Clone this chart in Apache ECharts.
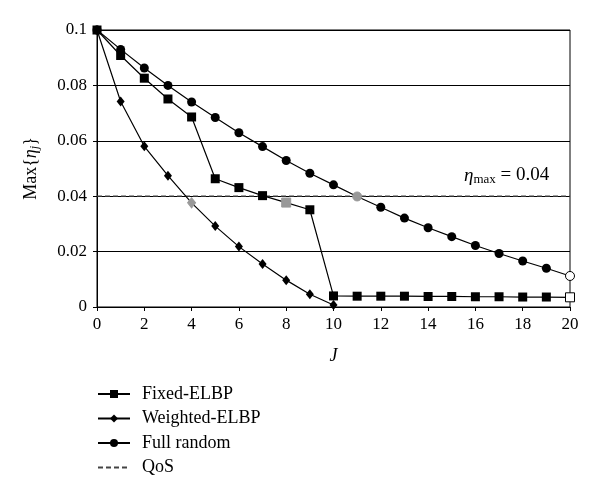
<!DOCTYPE html>
<html><head><meta charset="utf-8">
<script src="https://cdn.jsdelivr.net/npm/echarts@6/dist/echarts.min.js"></script>
<style>html,body{margin:0;padding:0;background:#fff}#c{width:600px;height:496px}</style>
</head><body><div id="c"></div>
<script>
const J = [0,1,2,3,4,5,6,7,8,9,10,11,12,13,14,15,16,17,18,19,20];
const fixedELBP = [0.1,0.0908,0.0826,0.0751,0.0686,0.0463,0.0431,0.0402,0.0377,0.0351,0.0040,0.0039,0.0039,0.0039,0.0038,0.0038,0.0037,0.0037,0.0036,0.0036,0.0035];
const weightedJ = [0,1,2,3,4,5,6,7,8,9,10];
const weightedELBP = [0.1,0.0742,0.0580,0.0474,0.0376,0.0292,0.0218,0.0155,0.0097,0.0046,0.0007];
const fullRandom = [0.1,0.093,0.0863,0.080,0.074,0.0684,0.0629,0.0579,0.0529,0.0483,0.0441,0.0399,0.0360,0.0321,0.0286,0.0254,0.0222,0.0193,0.0166,0.0140,0.0112];
const qosJ = [0,20];
const qos = [0.04,0.04];
const yTicks = [0,0.02,0.04,0.06,0.08,0.1];

const FONT = '"Liberation Serif","DejaVu Serif",serif';
const grey = {color:'#999999', borderColor:'#999999'};
const open = {color:'#ffffff', borderColor:'#000000', borderWidth:1};
function build(xs, ys, special){
  return ys.map((v,i)=>{
    const d = {value:[xs[i], v]};
    if (special[i]) d.itemStyle = special[i];
    return d;
  });
}
const chart = echarts.init(document.getElementById('c'));
chart.setOption({
  animation:false,
  backgroundColor:'#fff',
  textStyle:{fontFamily:FONT},
  grid:{left:97,right:30,top:30,bottom:189,show:true,borderColor:'#000',borderWidth:1,backgroundColor:'transparent'},
  xAxis:{type:'value',min:0,max:20,interval:2,
    name:'J',nameLocation:'middle',nameGap:40,
    nameTextStyle:{fontFamily:FONT,fontSize:18,fontStyle:'italic',color:'#000'},
    axisLine:{lineStyle:{color:'#000',width:1}},
    axisTick:{show:true,length:4,lineStyle:{color:'#000'}},
    axisLabel:{fontFamily:FONT,fontSize:17,color:'#000',margin:9},
    splitLine:{show:false}},
  yAxis:{type:'value',min:0,max:0.1,interval:0.02,
    name:'{a|Max{}{b|η}{c|j}{a|}}',nameLocation:'middle',nameGap:56,nameRotate:90,
    nameTextStyle:{fontFamily:FONT,fontSize:18,color:'#000',
      rich:{a:{fontFamily:FONT,fontSize:18,color:'#000'},
            b:{fontFamily:FONT,fontSize:18,fontStyle:'italic',color:'#000'},
            c:{fontFamily:FONT,fontSize:12,fontStyle:'italic',color:'#000',verticalAlign:'bottom',padding:[7,0,0,0]}}},
    axisLine:{show:true,lineStyle:{color:'#000',width:1}},
    axisTick:{show:true,length:4,lineStyle:{color:'#000'}},
    axisLabel:{fontFamily:FONT,fontSize:17,color:'#000',margin:10,
      formatter:v=>{const t=yTicks.find(x=>Math.abs(x-v)<1e-9);return t===undefined?'':String(+t.toFixed(2));}},
    splitLine:{show:true,lineStyle:{color:'#000',width:1}}},
  legend:{orient:'vertical',left:92,top:380,itemGap:6.5,itemWidth:32,itemHeight:10,
    textStyle:{fontFamily:FONT,fontSize:18,color:'#000',padding:[0,0,0,7]},
    data:['Fixed-ELBP','Weighted-ELBP','Full random',{name:'QoS',itemStyle:{opacity:0}}]},
  series:[
    {name:'QoS',type:'line',data:qosJ.map((x,i)=>[x,qos[i]]),symbol:'none',
      lineStyle:{color:'#444',width:1.2,type:[5,3]},itemStyle:{color:'#444'},z:1},
    {name:'Fixed-ELBP',type:'line',data:build(J,fixedELBP,{8:grey,20:open}),symbol:'rect',symbolSize:9,
      lineStyle:{color:'#000',width:1.2},itemStyle:{color:'#000'},z:3},
    {name:'Weighted-ELBP',type:'line',data:build(weightedJ,weightedELBP,{4:grey}),symbol:'diamond',symbolSize:[8,10],
      lineStyle:{color:'#000',width:1.2},itemStyle:{color:'#000'},z:3},
    {name:'Full random',type:'line',data:build(J,fullRandom,{11:grey,20:open}),symbol:'circle',symbolSize:9,
      lineStyle:{color:'#000',width:1.2},itemStyle:{color:'#000'},z:3}
  ],
  graphic:[{type:'text',left:464,top:166,
    style:{text:'{e|η}{s|max}{t| = 0.04}',fill:'#000',
      rich:{e:{fontFamily:FONT,fontSize:19,fontStyle:'italic',fill:'#000'},
            s:{fontFamily:FONT,fontSize:13,fill:'#000',padding:[9,0,0,0]},
            t:{fontFamily:FONT,fontSize:19,fill:'#000'}}}}]
});
</script></body></html>
